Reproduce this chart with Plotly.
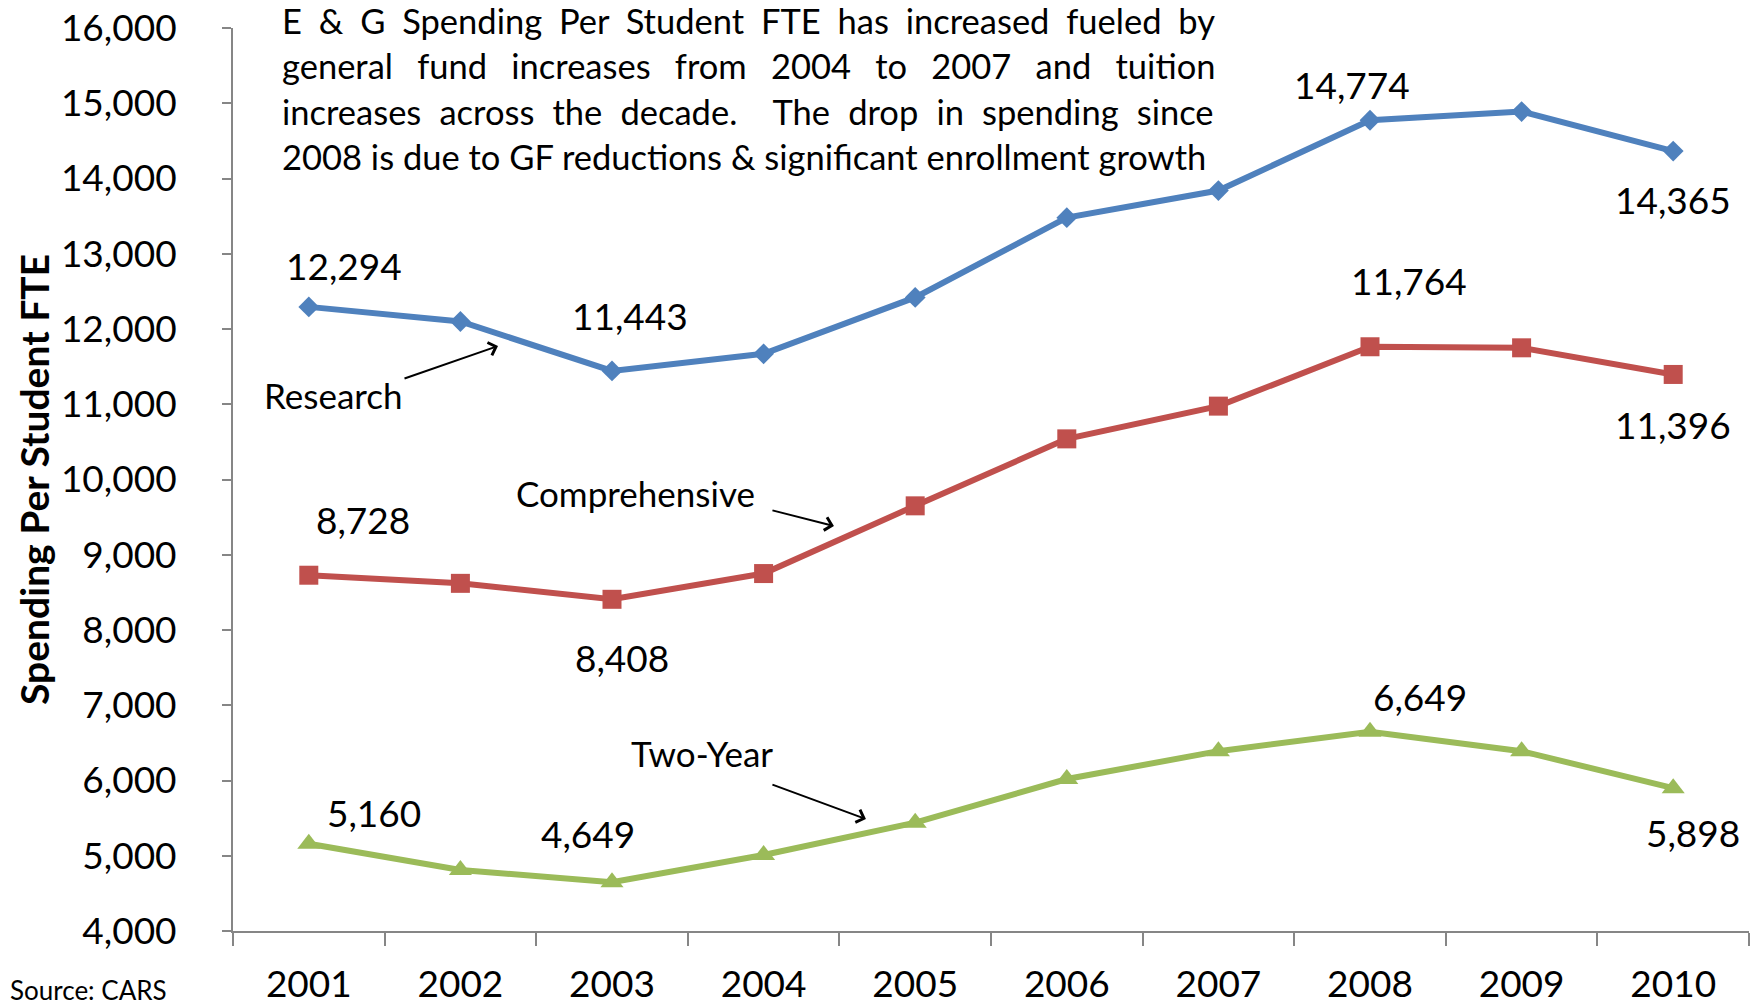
import plotly.graph_objects as go

# ── Data ─────────────────────────────────────────────────────────────────────
YEARS = ["2001", "2002", "2003", "2004", "2005", "2006", "2007", "2008", "2009", "2010"]

RESEARCH      = [12294, 12100, 11443, 11670, 12420, 13480, 13840, 14774, 14890, 14365]
COMPREHENSIVE = [8728, 8620, 8408, 8750, 9650, 10540, 10975, 11764, 11750, 11396]
TWO_YEAR      = [5160, 4810, 4649, 5010, 5440, 6020, 6390, 6649, 6390, 5898]

Y_TICKS = [4000, 5000, 6000, 7000, 8000, 9000, 10000, 11000, 12000, 13000, 14000, 15000, 16000]

NOTE_LINES = [
    "E & G Spending Per Student FTE has increased fueled by",
    "general fund increases from 2004 to 2007 and tuition",
    "increases across the decade.  The drop in spending since",
    "2008 is due to GF reductions & significant enrollment growth",
]

# ── Style ────────────────────────────────────────────────────────────────────
C_BLUE  = "#4F81BD"
C_RED   = "#C0504D"
C_GREEN = "#9BBB59"
C_AXIS  = "#868686"
C_TEXT  = "#000000"
FONT    = "Lato, sans-serif"

fig = go.Figure()

series = [
    ("Research", RESEARCH, C_BLUE, "diamond", 16),
    ("Comprehensive", COMPREHENSIVE, C_RED, "square", 19),
    ("Two-Year", TWO_YEAR, C_GREEN, "triangle-up", 20),
]
for name, vals, col, sym, size in series:
    fig.add_trace(go.Scatter(
        x=YEARS, y=vals, name=name,
        mode="lines+markers",
        line=dict(color=col, width=6),
        marker=dict(symbol=sym, size=size, color=col, line=dict(width=0)),
    ))

# data labels: (values, category index, xshift, yshift in screen px downwards)
labels = [
    (RESEARCH, 0, 35, -41), (RESEARCH, 2, 18, -55),
    (RESEARCH, 7, -18, -36), (RESEARCH, 9, 0, 48),
    (COMPREHENSIVE, 0, 54, -56), (COMPREHENSIVE, 2, 10, 58),
    (COMPREHENSIVE, 7, 39, -66), (COMPREHENSIVE, 9, 0, 50),
    (TWO_YEAR, 0, 65, -31), (TWO_YEAR, 2, -24, -49),
    (TWO_YEAR, 7, 50, -35), (TWO_YEAR, 9, 20, 44),
]
for vals, i, dx, dy in labels:
    fig.add_annotation(
        x=i, y=vals[i], text=f"{vals[i]:,}",
        showarrow=False, xshift=dx, yshift=-dy,
        font=dict(size=37, color=C_TEXT, family=FONT),
    )

# series call-outs with arrows (x in category index units)
callouts = [
    ("Research", 0.16, 11123, 1.248, 11774, -95, 33),
    ("Comprehensive", 2.158, 9821, 3.464, 9382, -63, -16),
    ("Two-Year", 2.594, 6365, 3.675, 5488, -95, -35),
]
for text, tx, ty, hx, hy, ax, ay in callouts:
    fig.add_annotation(
        x=tx, y=ty, text=text, showarrow=False,
        font=dict(size=35, color=C_TEXT, family=FONT),
    )
    fig.add_annotation(
        x=hx, y=hy, text="", showarrow=True,
        ax=ax, ay=ay, arrowhead=4, arrowsize=1.3,
        arrowwidth=2, arrowcolor=C_TEXT, standoff=0,
    )

# note text, one annotation per line, word spacing to mimic justified text
note_y = [1.0078, 0.958, 0.908, 0.858]
note_ws = [8, 15.4, 9.3, 0]
for line, y, ws in zip(NOTE_LINES, note_y, note_ws):
    fig.add_annotation(
        xref="paper", yref="paper", x=0.031, y=y,
        text=f'<span style="word-spacing:{ws}px">{line}</span>',
        showarrow=False, xanchor="left", yanchor="middle",
        font=dict(size=34.5, color=C_TEXT, family=FONT),
    )

fig.add_annotation(
    xref="paper", yref="paper", x=-0.1313, y=0.5006,
    text="<b>Spending Per Student FTE</b>", textangle=-90,
    showarrow=False, xanchor="center", yanchor="middle",
    font=dict(size=39, color=C_TEXT, family=FONT),
)
fig.add_annotation(
    xref="paper", yref="paper", x=-0.1484, y=-0.0653,
    text="Source: CARS", showarrow=False, xanchor="left", yanchor="middle",
    font=dict(size=26, color=C_TEXT, family=FONT),
)

fig.update_layout(
    width=1756, height=1007,
    margin=dict(l=233, r=7, t=28, b=76),
    paper_bgcolor="white", plot_bgcolor="white",
    showlegend=False,
    font=dict(family=FONT, color=C_TEXT),
    xaxis=dict(
        type="category", tickson="boundaries", automargin=False,
        range=[-0.5, len(YEARS) - 0.5], tickangle=0,
        showline=True, linecolor=C_AXIS, linewidth=2,
        ticks="outside", ticklen=13, tickwidth=2, tickcolor=C_AXIS,
        showgrid=False, zeroline=False, ticklabeloverflow="allow",
        tickfont=dict(size=37, color=C_TEXT, family=FONT),
        ticklabelstandoff=20,
    ),
    yaxis=dict(
        range=[4000, 16000], tickvals=Y_TICKS, tickformat=",d",
        automargin=False, ticklabeloverflow="allow",
        showline=True, linecolor=C_AXIS, linewidth=2,
        ticks="outside", ticklen=9, tickwidth=2, tickcolor=C_AXIS,
        showgrid=False, zeroline=False,
        tickfont=dict(size=37, color=C_TEXT, family=FONT),
        ticklabelstandoff=38,
    ),
)

# drop the page's default body margin so the figure fills the window exactly
fig.write_html(
    "out.html",
    config={"displayModeBar": False},
    post_script="document.body.style.margin = '0px';",
)
